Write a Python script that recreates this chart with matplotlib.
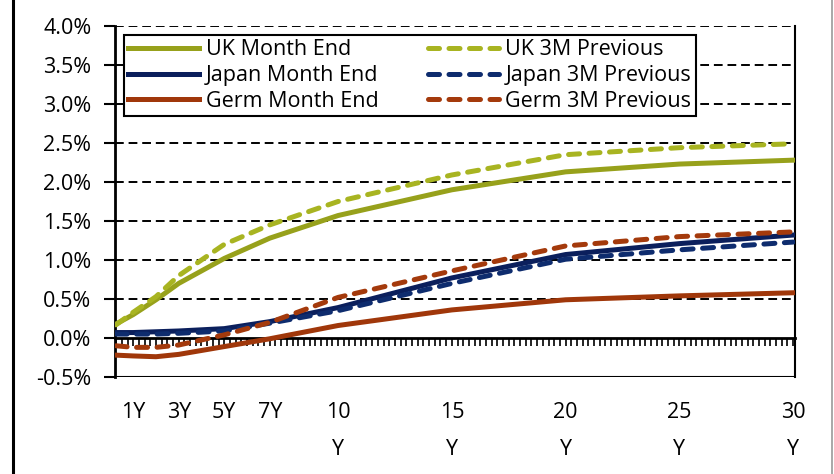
import numpy as np
import matplotlib.pyplot as plt
from matplotlib.lines import Line2D

plt.rcParams['font.family'] = ['Open Sans', 'DejaVu Sans']

# maturities in years (first point = 3M)
tenor = [0.25, 1, 2, 3, 5, 7, 10, 15, 20, 25, 30]

uk_end = [0.18, 0.30, 0.49, 0.70, 1.02, 1.28, 1.57, 1.90, 2.13, 2.23, 2.28]
uk_prev = [0.17, 0.33, 0.53, 0.80, 1.20, 1.45, 1.75, 2.09, 2.35, 2.44, 2.49]
jp_end = [0.07, 0.07, 0.08, 0.09, 0.12, 0.21, 0.39, 0.77, 1.07, 1.21, 1.32]
jp_prev = [0.05, 0.05, 0.05, 0.06, 0.09, 0.19, 0.35, 0.70, 1.01, 1.13, 1.23]
de_end = [-0.22, -0.23, -0.24, -0.21, -0.11, -0.01, 0.16, 0.36, 0.49, 0.54, 0.58]
de_prev = [-0.10, -0.12, -0.12, -0.09, 0.04, 0.20, 0.52, 0.86, 1.18, 1.30, 1.36]

xt = [1, 3, 5, 7, 10, 15, 20, 25, 30]
xt_lab = ['1Y', '3Y', '5Y', '7Y', '10\nY', '15\nY', '20\nY', '25\nY', '30\nY']

c_uk, c_uk2 = '#97A11B', '#A8B421'
c_jp, c_jp2 = '#0B1F5C', '#0E2C6E'
c_de, c_de2 = '#A0370A', '#A43A0C'

fs = 15.5

fig = plt.figure(figsize=(8.34, 4.74), dpi=100)
ax = fig.add_axes([115/834, 1-377/474, 680/834, 351/474])

lw = 3.6
dash = dict(ls=(0, (2.2, 1.9)), dash_capstyle='round')
ax.plot(tenor, uk_end, color=c_uk, lw=lw, label='UK Month End', zorder=3)
ax.plot(tenor, uk_prev, color=c_uk2, lw=lw, label='UK 3M Previous', zorder=3, **dash)
ax.plot(tenor, jp_end, color=c_jp, lw=lw, label='Japan Month End', zorder=3)
ax.plot(tenor, jp_prev, color=c_jp2, lw=lw, label='Japan 3M Previous', zorder=3, **dash)
ax.plot(tenor, de_end, color=c_de, lw=lw, label='Germ Month End', zorder=3)
ax.plot(tenor, de_prev, color=c_de2, lw=lw, label='Germ 3M Previous', zorder=3, **dash)

ax.set_xlim(0.2, 30.08)
ax.set_ylim(-0.5, 4.0)

# y axis
yt = np.arange(-0.5, 4.01, 0.5)
ax.set_yticks(yt)
ax.set_yticklabels(['%.1f%%' % v for v in yt], fontsize=fs)
ax.tick_params(axis='y', direction='out', length=8, width=1.5, pad=9)
for v in yt[2:]:
    ax.axhline(v, color='black', lw=1.4, ls=(0, (4.5, 2.5)), zorder=1)

# x axis sits on the zero line, quarterly ticks pointing down
ax.spines['bottom'].set_position(('data', 0))
ax.spines['bottom'].set_linewidth(2)
ax.set_xticks(xt)
ax.set_xticklabels(xt_lab, fontsize=fs, linespacing=2.0, va='top')
ax.set_xticks(np.arange(0.25, 30.01, 0.25), minor=True)
ax.tick_params(axis='x', which='both', direction='out', length=6, width=1.2, pad=40)
ax.axhline(-0.5, color='black', lw=1.5, zorder=2)

ax.spines['left'].set_linewidth(2)
ax.spines['right'].set_linewidth(1.5)
ax.spines['top'].set_visible(False)

order = [0, 2, 4, 1, 3, 5]
h, l = ax.get_legend_handles_labels()
leg = ax.legend([h[i] for i in order], [l[i] for i in order], ncol=2,
                loc='upper left', bbox_to_anchor=(0.013, 0.974), fontsize=fs,
                frameon=True, fancybox=False, edgecolor='black', framealpha=1,
                handlelength=3.3, handletextpad=0.3, columnspacing=2.3,
                labelspacing=0.22, borderpad=0.2, borderaxespad=0)
leg.get_frame().set_linewidth(1.5)
leg.set_zorder(5)

# page edges
fig.add_artist(Line2D([12.5/834, 12.5/834], [0, 1], color='black', lw=2.2))
fig.add_artist(Line2D([831.5/834, 831.5/834], [0, 1], color='#9a9a9a', lw=1.2))

fig.savefig('out.png', dpi=100)
